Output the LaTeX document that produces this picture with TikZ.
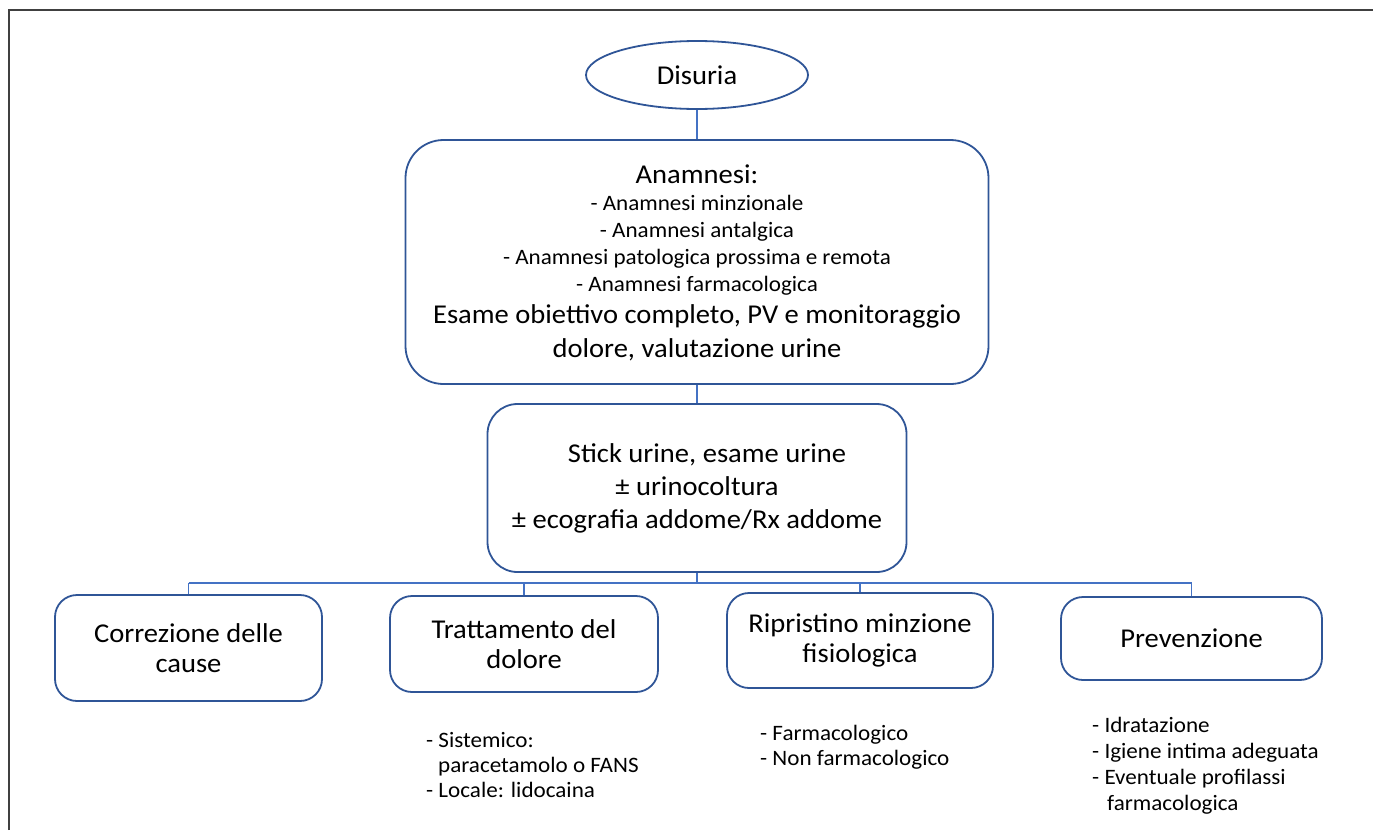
\documentclass[tikz,border=0pt]{standalone}
\usepackage{fontspec}
\setmainfont{Carlito}[FakeStretch=1.05]
\usetikzlibrary{shapes.geometric}
\definecolor{boxblue}{HTML}{2F5597}
\definecolor{lineblue}{HTML}{4472C4}
\definecolor{framegray}{HTML}{404040}
\tikzset{
  box/.style={draw=boxblue, line width=1.8pt, align=center, inner sep=0pt, text=black},
  conn/.style={draw=lineblue, line width=1.8pt},
  bigfont/.style={font=\fontsize{27.2}{33}\selectfont},
  smallfont/.style={font=\fontsize{22}{26}\selectfont},
  txtline/.style={anchor=base, inner sep=0pt},
  listitem/.style={anchor=base west, inner sep=0pt, font=\fontsize{22}{26}\selectfont},
  smallbox/.style={box, rounded corners=22pt, font=\fontsize{27.2}{30}\selectfont},
}
\begin{document}
\begin{tikzpicture}[x=1pt,y=-1pt]
\useasboundingbox (0,0) rectangle (1373,830);
\draw[framegray, line width=2pt] (9,830) -- (9,10) -- (1373,10);

\node[box, ellipse, minimum width=222pt, minimum height=68pt, bigfont] (dis) at (697,75) {Disuria};

\node[box, rounded corners=38pt, minimum width=583pt, minimum height=244pt] (anam) at (697,262) {};
\node[txtline, bigfont] (a0) at (697,183) {Anamnesi:};
\node[txtline, smallfont] (a1) at (697,210) {- Anamnesi minzionale};
\node[txtline, smallfont] (a2) at (697,237) {- Anamnesi antalgica};
\node[txtline, smallfont] (a3) at (697,264) {- Anamnesi patologica prossima e remota};
\node[txtline, smallfont] (a4) at (697,291) {- Anamnesi farmacologica};
\node[txtline, bigfont] (a5) at (697,323) {Esame obiettivo completo, PV e monitoraggio};
\node[txtline, bigfont] (a6) at (697,357) {dolore, valutazione urine};

\node[box, rounded corners=30pt, minimum width=419pt, minimum height=168pt, bigfont] (stick) at (697,488)
  {\hspace*{20pt}Stick urine, esame urine\\ ± urinocoltura\\ ± ecografia addome/Rx addome};

\node[smallbox, minimum width=267pt, minimum height=106pt] (b1) at (188.5,648) {Correzione delle\\cause};
\node[smallbox, minimum width=268pt, minimum height=96pt] (b2) at (524,644) {Trattamento del\\dolore};
\node[smallbox, minimum width=266pt, minimum height=95pt] (b3) at (860,640.5) {Ripristino minzione\\fisiologica};
\node[smallbox, minimum width=261pt, minimum height=83pt] (b4) at (1191.5,638.5) {Prevenzione};

\draw[conn] (dis.south) -- (anam.north);
\draw[conn] (anam.south) -- (stick.north);
\coordinate (bus) at (697,583);
\draw[conn] (stick.south) -- (bus);
\draw[conn] (b1.north |- bus) -- (b4.north |- bus);
\foreach \b in {b1,b2,b3,b4} \draw[conn] (\b.north |- bus) -- (\b.north);

\node[listitem] (l1a) at (426,747) {- Sistemico:};
\node[listitem] (l1b) at (438,772) {paracetamolo o FANS};
\node[listitem] (l1c) at (426,797) {- Locale: lidocaina};
\node[listitem] (l2a) at (760,740) {- Farmacologico};
\node[listitem] (l2b) at (760,765) {- Non farmacologico};
\node[listitem] (l3a) at (1092,732) {- Idratazione};
\node[listitem] (l3b) at (1092,758) {- Igiene intima adeguata};
\node[listitem] (l3c) at (1092,784) {- Eventuale profilassi};
\node[listitem] (l3d) at (1107,810) {farmacologica};
\end{tikzpicture}
\end{document}
